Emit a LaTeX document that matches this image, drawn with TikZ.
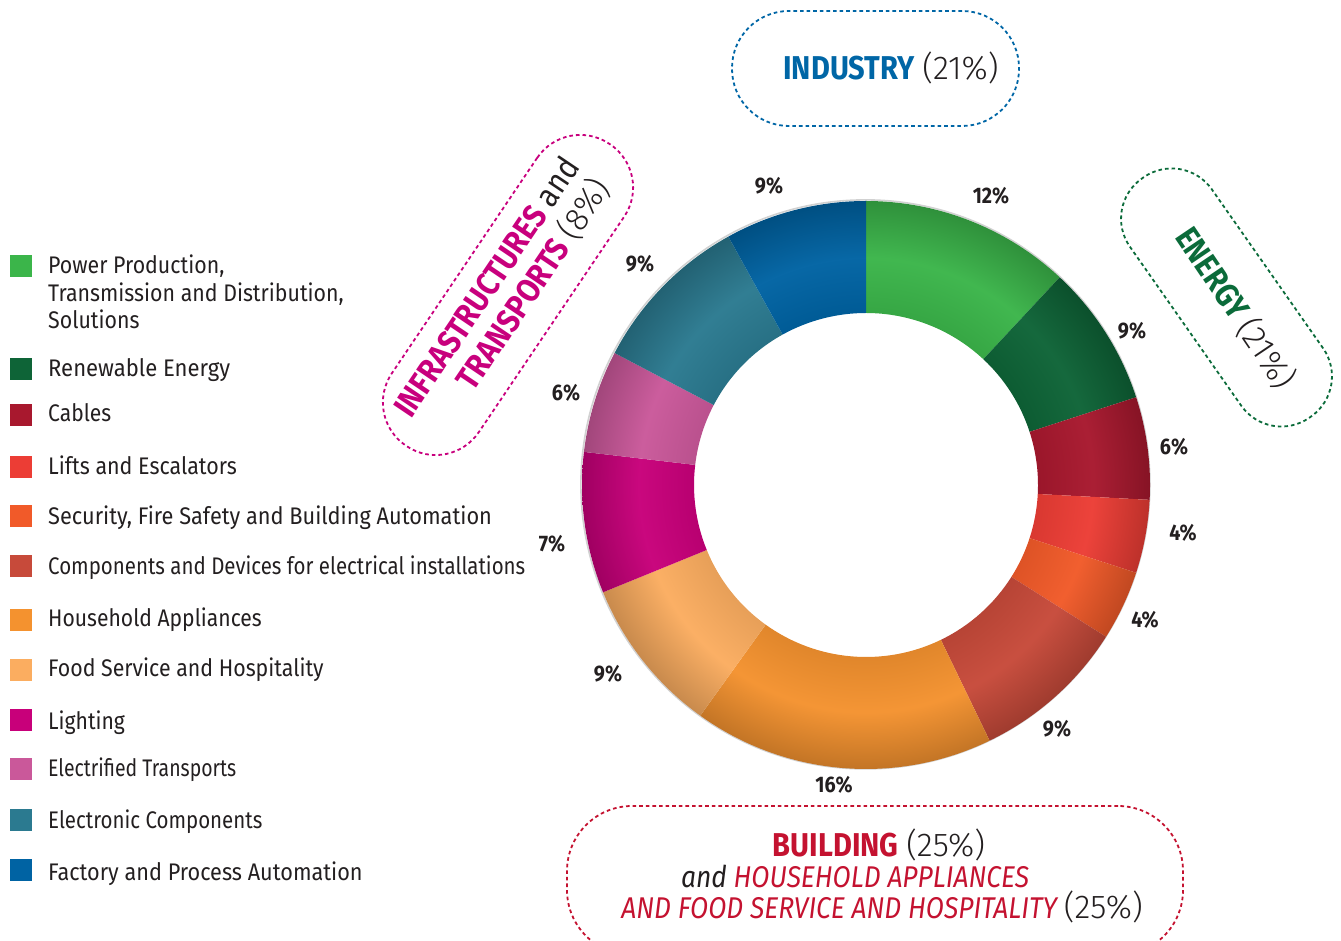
\documentclass[tikz,border=0pt]{standalone}
\usepackage{fontspec}
\setmainfont{Fira Sans}[FakeStretch=0.88]
\newfontfamily\catlight{Fira Sans Light}
\usetikzlibrary{calc}

\definecolor{cTxt}{HTML}{231F20}
\definecolor{cPow}{HTML}{3BB54A}
\definecolor{cRen}{HTML}{0E6437}
\definecolor{cCab}{HTML}{A8182E}
\definecolor{cLif}{HTML}{EC3D35}
\definecolor{cSec}{HTML}{F15A29}
\definecolor{cCom}{HTML}{C74A3A}
\definecolor{cHou}{HTML}{F4922F}
\definecolor{cFoo}{HTML}{FBAD60}
\definecolor{cLig}{HTML}{C8007A}
\definecolor{cEle}{HTML}{CA589A}
\definecolor{cEco}{HTML}{2B7A90}
\definecolor{cFac}{HTML}{0063A3}
\definecolor{cInd}{HTML}{0066A6}
\definecolor{cEn}{HTML}{0B6B3A}
\definecolor{cInf}{HTML}{C8007D}
\definecolor{cBui}{HTML}{C41230}
\colorlet{ringcol}{black}

\pgfdeclareradialshading[ringcol]{ringshade}{\pgfpoint{0bp}{0bp}}{%
  color(0bp)=(ringcol);
  color(15.1bp)=(ringcol!92!black);
  color(20bp)=(ringcol!97!white);
  color(25bp)=(ringcol!80!black);
  color(50bp)=(ringcol!80!black)}

\begin{document}
\begin{tikzpicture}[x=1pt,y=1pt,
  sq/.style={minimum size=22pt, inner sep=0pt, outer sep=0pt, draw=none},
  lg/.style={inner sep=0pt, text=cTxt, font=\fontsize{24}{27.5}\selectfont},
  pct/.style={inner sep=0pt, text=cTxt, font=\bfseries\fontsize{22.5}{24}\selectfont},
  cat/.style={inner sep=0pt, text=cTxt, font=\fontsize{33}{37}\selectfont},
  catbox/.style={draw, line width=1.8pt, dash pattern=on 3.6pt off 3pt, inner sep=0pt}
]
\useasboundingbox (0,0) rectangle (1341,940);
\coordinate (c) at (866,455);

% faint shadow edge of the ring
\draw[black!18, line width=1.6pt] ($(c)+(-0.6,0.6)$) circle[radius=284.5];

% ring slices
\foreach \a/\b/\col in {90/47/cPow, 47/18/cRen, 18/-3/cCab, -3/-18/cLif,
  -18/-32.3/cSec, -32.3/-64.2/cCom, -64.2/-125.7/cHou, -125.7/-157.8/cFoo,
  -157.8/-186.7/cLig, -186.7/-207.7/cEle, -207.7/-241/cEco, -241/-270/cFac}{
  \begin{scope}
    \clip (c) ++(\a:284) arc[start angle=\a, end angle=\b, radius=284]
      -- ($(c)+(\b:172)$) arc[start angle=\b, end angle=\a, radius=172] -- cycle;
    \colorlet{ringcol}{\col}
    \shade[shading=ringshade] (c) circle[radius=284];
  \end{scope}
}

% percentage labels
\node[pct] (p1) at (991,744) {12\%};
\node[pct] (p2) at (1132,609) {9\%};
\node[pct] (p3) at (1174,493) {6\%};
\node[pct] (p4) at (1183,407) {4\%};
\node[pct] (p5) at (1145,320) {4\%};
\node[pct] (p6) at (1057,211) {9\%};
\node[pct] (p7) at (834,155) {16\%};
\node[pct] (p8) at (608,266) {9\%};
\node[pct] (p9) at (552,396) {7\%};
\node[pct] (p10) at (566,547) {6\%};
\node[pct] (p11) at (640,676) {9\%};
\node[pct] (p12) at (769,754) {9\%};

% legend
\node[sq, fill=cPow] (s1) at (21,674) {};
\node[sq, fill=cRen] (s2) at (21,571) {};
\node[sq, fill=cCab] (s3) at (21,525) {};
\node[sq, fill=cLif] (s4) at (21,473) {};
\node[sq, fill=cSec] (s5) at (21,424) {};
\node[sq, fill=cCom] (s6) at (21,374) {};
\node[sq, fill=cHou] (s7) at (21,320) {};
\node[sq, fill=cFoo] (s8) at (21,270) {};
\node[sq, fill=cLig] (s9) at (21,220) {};
\node[sq, fill=cEle] (s10) at (21,171) {};
\node[sq, fill=cEco] (s11) at (21,120) {};
\node[sq, fill=cFac] (s12) at (21,70) {};

\node[lg, anchor=west, align=left, xscale=1.01] (t1) at (48,648) {Power Production,\\Transmission and Distribution,\\Solutions};
\node[lg, anchor=base west, xscale=1.045] (t2) at (48,563.3) {Renewable Energy};
\node[lg, anchor=base west] (t3) at (48,518.3) {Cables};
\node[lg, anchor=base west, xscale=1.015] (t4) at (48,465) {Lifts and Escalators};
\node[lg, anchor=base west, xscale=1.03] (t5) at (48,415) {Security, Fire Safety and Building Automation};
\node[lg, anchor=base west, xscale=0.97] (t6) at (48,365) {Components and Devices for electrical installations};
\node[lg, anchor=base west] (t7) at (48,313.3) {Household Appliances};
\node[lg, anchor=base west, xscale=1.01] (t8) at (48,263.3) {Food Service and Hospitality};
\node[lg, anchor=base west] (t9) at (48,210) {Lighting};
\node[lg, anchor=base west, xscale=0.92] (t10) at (48,163.3) {Electrified Transports};
\node[lg, anchor=base west, xscale=0.97] (t11) at (48,111.7) {Electronic Components};
\node[lg, anchor=base west, xscale=1.026] (t12) at (48,60) {Factory and Process Automation};

% INDUSTRY
\node[catbox, draw=cInd, minimum width=287pt, minimum height=115pt, rounded corners=57pt] (indbox) at (875.5,871.5) {};
\node[cat] (indtxt) at (891,872) {\textcolor{cInd}{\bfseries INDUSTRY} {\catlight (21\%)}};

% ENERGY
\node[catbox, draw=cEn, minimum width=292pt, minimum height=100pt, rounded corners=49pt, rotate=-55] (enbox) at (1226.5,642.5) {};
\node[cat, rotate=-56] (entxt) at (1236,632) {\textcolor{cEn}{\bfseries ENERGY} {\catlight (21\%)}};

% INFRASTRUCTURES and TRANSPORTS
\node[catbox, draw=cInf, minimum width=364pt, minimum height=105pt, rounded corners=52pt, rotate=56] (infbox) at (508,645) {};
\node[cat, rotate=56, align=right] (inftxt) at (503,642) {\textcolor{cInf}{\bfseries INFRASTRUCTURES} and\\\textcolor{cInf}{\bfseries TRANSPORTS} {\catlight (8\%)}};

% BUILDING
\node[catbox, draw=cBui, minimum width=616pt, minimum height=149pt, rounded corners=65pt] (buibox) at (875,59.5) {};
\node[cat] (b1) at (879,95) {\textcolor{cBui}{\bfseries BUILDING} {\catlight (25\%)}};
\node[cat, font=\fontsize{30}{33}\selectfont] (b2) at (855,64) {\itshape and \textcolor{cBui}{HOUSEHOLD APPLIANCES}};
\node[cat, font=\fontsize{30}{33}\selectfont] (b3) at (882,33) {\textcolor{cBui}{\itshape AND FOOD SERVICE AND HOSPITALITY} {\catlight\fontsize{33}{37}\selectfont (25\%)}};
\end{tikzpicture}
\end{document}
